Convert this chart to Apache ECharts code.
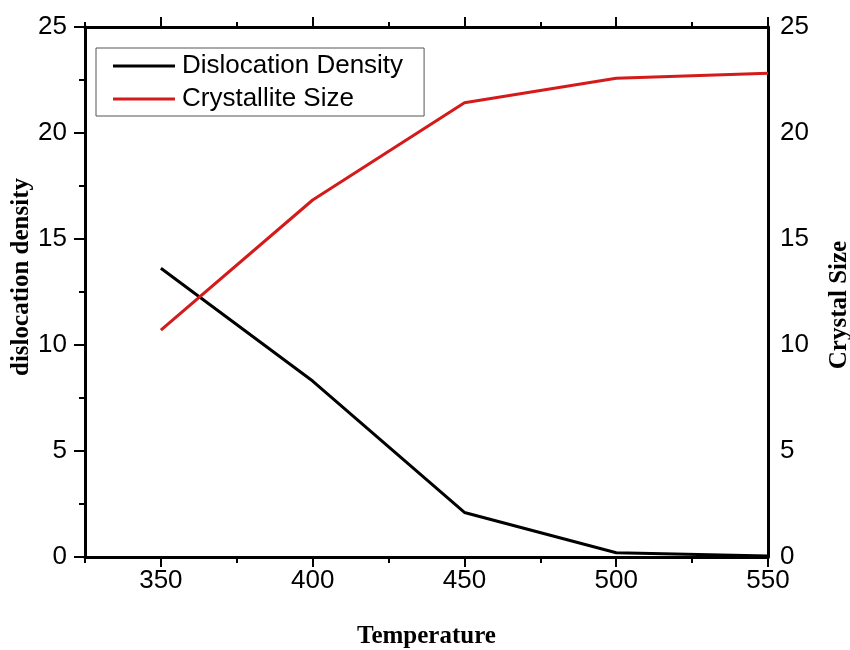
<!DOCTYPE html>
<html>
<head>
<meta charset="utf-8">
<script src="https://cdn.jsdelivr.net/npm/echarts@6/dist/echarts.min.js"></script>
<style>html,body{margin:0;padding:0;background:#fff}#c{width:850px;height:650px}</style>
</head>
<body>
<div id="c"></div>
<script>
const temperature = [350, 400, 450, 500, 550];
const dislocationDensity = [13.62, 8.3, 2.1, 0.2, 0.05];
const crystalliteSize = [10.7, 16.84, 21.43, 22.58, 22.82];
const majorTicksX = [350, 400, 450, 500, 550];
const minorTicksX = [325, 375, 425, 475, 525];

const chart = echarts.init(document.getElementById('c'));
const sans = 'Liberation Sans, Arial, sans-serif';
const serif = 'Liberation Serif, Times New Roman, serif';
const axisLine = {show: true, lineStyle: {color: '#000', width: 3}};
const tickStyle = {color: '#000', width: 2};

chart.setOption({
  animation: false,
  backgroundColor: '#fff',
  grid: {left: 85, right: 82, top: 27, bottom: 93, containLabel: false, outerBoundsMode: 'none'},
  legend: {
    left: 96, top: 48, orient: 'vertical',
    data: ['Dislocation Density', 'Crystallite Size'],
    icon: 'rect', itemWidth: 62, itemHeight: 3, itemGap: 7,
    borderColor: '#555', borderWidth: 1, padding: [5, 21, 4, 17],
    textStyle: {fontFamily: sans, fontSize: 26, color: '#000', padding: [0, 0, 0, 2]}
  },
  xAxis: [
    {
      type: 'value', min: 325, max: 550, position: 'bottom',
      name: 'Temperature', nameLocation: 'middle', nameGap: 67, nameMoveOverlap: false,
      nameTextStyle: {fontFamily: serif, fontWeight: 'bold', fontSize: 25, color: '#000'},
      axisLine: axisLine,
      axisTick: {show: true, customValues: majorTicksX, length: 10, lineStyle: tickStyle},
      axisLabel: {customValues: majorTicksX, margin: 11, fontFamily: sans, fontSize: 26, color: '#000'},
      splitLine: {show: false}
    },
    {
      type: 'value', min: 325, max: 550, position: 'bottom',
      axisLine: {show: false},
      axisTick: {show: true, customValues: minorTicksX, length: 6, lineStyle: tickStyle},
      axisLabel: {show: false}, splitLine: {show: false}
    },
    {
      type: 'value', min: 325, max: 550, position: 'top',
      axisLine: axisLine,
      axisTick: {show: true, customValues: majorTicksX, length: 10, lineStyle: tickStyle},
      axisLabel: {show: false}, splitLine: {show: false}
    },
    {
      type: 'value', min: 325, max: 550, position: 'top',
      axisLine: {show: false},
      axisTick: {show: true, customValues: minorTicksX, length: 5, lineStyle: tickStyle},
      axisLabel: {show: false}, splitLine: {show: false}
    }
  ],
  yAxis: [
    {
      type: 'value', min: 0, max: 25, interval: 5, position: 'left',
      name: 'dislocation density', nameLocation: 'middle', nameGap: 51, nameRotate: 90, nameMoveOverlap: false,
      nameTextStyle: {fontFamily: serif, fontWeight: 'bold', fontSize: 25, color: '#000', padding: [0, 0, 0, 30]},
      axisLine: axisLine,
      axisTick: {show: true, length: 11, lineStyle: tickStyle},
      minorTick: {show: true, splitNumber: 2, length: 6, lineStyle: tickStyle},
      axisLabel: {margin: 18, fontFamily: sans, fontSize: 26, color: '#000'},
      splitLine: {show: false}, minorSplitLine: {show: false}
    },
    {
      type: 'value', min: 0, max: 25, interval: 5, position: 'right',
      name: 'Crystal Size', nameLocation: 'middle', nameGap: 59, nameRotate: 90, nameMoveOverlap: false,
      nameTextStyle: {fontFamily: serif, fontWeight: 'bold', fontSize: 25, color: '#000', padding: [0, 26, 0, 0]},
      axisLine: axisLine,
      axisTick: {show: false},
      minorTick: {show: false},
      axisLabel: {margin: 12, fontFamily: sans, fontSize: 26, color: '#000'},
      splitLine: {show: false}
    }
  ],
  series: [
    {
      name: 'Dislocation Density', type: 'line', xAxisIndex: 0, yAxisIndex: 0,
      data: temperature.map((t, i) => [t, dislocationDensity[i]]),
      showSymbol: false, symbol: 'none',
      lineStyle: {color: '#000', width: 3}, itemStyle: {color: '#000'}
    },
    {
      name: 'Crystallite Size', type: 'line', xAxisIndex: 0, yAxisIndex: 1,
      data: temperature.map((t, i) => [t, crystalliteSize[i]]),
      showSymbol: false, symbol: 'none',
      lineStyle: {color: '#d41a1a', width: 3}, itemStyle: {color: '#d41a1a'}
    }
  ]
});
</script>
</body>
</html>
